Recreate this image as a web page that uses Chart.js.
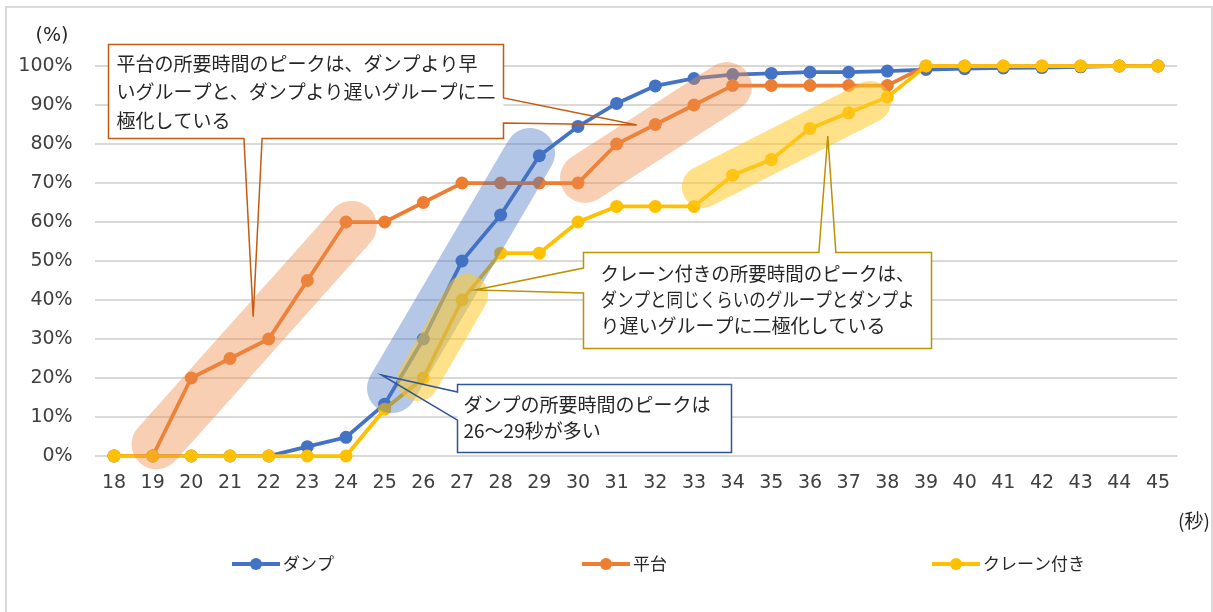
<!DOCTYPE html>
<html lang="ja">
<head>
<meta charset="utf-8">
<script src="https://cdn.jsdelivr.net/npm/chart.js@4.4.1/dist/chart.umd.min.js"></script>
<style>
  html, body { margin: 0; padding: 0; background: #fff; }
  #chart { display: block; }
</style>
</head>
<body>
<canvas id="chart" width="1213" height="612"></canvas>
<script>
// 所要時間(秒)ごとの累積割合(%)
const seconds = [18, 19, 20, 21, 22, 23, 24, 25, 26, 27, 28, 29, 30, 31, 32, 33, 34, 35, 36, 37, 38, 39, 40, 41, 42, 43, 44, 45];
const yTicks = [0, 10, 20, 30, 40, 50, 60, 70, 80, 90, 100];
const dump = [0, 0, 0, 0, 0, 2.4, 4.8, 13.3, 30, 50, 61.8, 77, 84.5, 90.4, 94.9, 96.8, 97.8, 98.1, 98.4, 98.4, 98.7, 99.1, 99.3, 99.5, 99.6, 99.8, 100, 100];
const flatbed = [0, 0, 20, 25, 30, 45, 60, 60, 65, 70, 70, 70, 70, 80, 85, 90, 95, 95, 95, 95, 95, 100, 100, 100, 100, 100, 100, 100];
const crane = [0, 0, 0, 0, 0, 0, 0, 12, 20, 40, 52, 52, 60, 64, 64, 64, 72, 76, 84, 88, 92, 100, 100, 100, 100, 100, 100, 100];
const seriesNames = ['ダンプ', '平台', 'クレーン付き'];
const seriesColors = ['#4472C4', '#ED7D31', '#FFC000'];

const JP_FONT = '"Noto Sans CJK JP", "Noto Sans", sans-serif';
const NUM_FONT = '"DejaVu Sans", sans-serif';
const TEXT_COLOR = '#262626';

// 強調の帯 (秒, %)
const bands = [
  { from: [19.1, 3], to: [24.15, 59], width: 50, color: 'rgba(239,140,75,0.42)' },
  { from: [30.18, 71.3], to: [33.85, 94.6], width: 50, color: 'rgba(239,140,75,0.42)' },
  { from: [33.23, 69.0], to: [37.55, 90.8], width: 42, color: 'rgba(255,200,40,0.55)' },
  { from: [25.19, 17.4], to: [28.76, 77.7], width: 50, color: 'rgba(68,114,196,0.4)' },
  { from: [25.86, 19.5], to: [27.13, 41.3], width: 42, color: 'rgba(255,200,40,0.55)' }
];

// 吹き出し  box: [左, 上, 右, 下] (秒, %)
const callouts = [
  {
    box: [17.85, 105.6, 28.06, 81.5], color: '#C55A11', font: 19, lineH: 28.5, pad: [8, 19],
    lines: ['平台の所要時間のピークは、ダンプより早', 'いグループと、ダンプより遅いグループに二', '極化している'],
    wedges: [
      { side: 'bottom', base: [21.36, 21.83], tip: [21.6, 35.7] },
      { side: 'right', base: [91.8, 85.4], tip: [31.52, 84.9] }
    ]
  },
  {
    box: [30.13, 52.3, 39.13, 27.7], color: '#BF9000', font: 19, lineH: 26, pad: [17, 21],
    lines: ['クレーン付きの所要時間のピークは、', 'ダンプと同じくらいのグループとダンプよ', 'り遅いグループに二極化している'],
    wedges: [
      { side: 'top', base: [36.23, 36.67], tip: [36.46, 82.05] },
      { side: 'left', base: [48.2, 41.8], tip: [27.34, 42.56] }
    ]
  },
  {
    box: [26.87, 18.46, 33.96, 1.03], color: '#2F5597', font: 19, lineH: 26, pad: [6, 20],
    lines: ['ダンプの所要時間のピークは', '26～29秒が多い'],
    wedges: [
      { side: 'left', base: [16.4, 9.2], tip: [24.92, 20.77] }
    ]
  }
];

const toPx = (chart, xv, yv) => {
  const x = chart.scales.x.getPixelForValue(xv - seconds[0]);
  const y = chart.scales.y.getPixelForValue(yv);
  return [x, y];
};

const framePlugin = {
  id: 'frame',
  beforeDraw: (chart) => {
    const ctx = chart.ctx;
    ctx.save();
    ctx.fillStyle = '#fff';
    ctx.fillRect(0, 0, chart.width, chart.height);
    ctx.strokeStyle = '#D9D9D9';
    ctx.lineWidth = 2;
    ctx.strokeRect(6, 7, chart.width - 7, chart.height + 10);
    ctx.restore();
  }
};

const bandPlugin = {
  id: 'bands',
  afterDatasetsDraw: (chart) => {
    const ctx = chart.ctx;
    ctx.save();
    ctx.lineCap = 'round';
    bands.forEach((b) => {
      const p0 = toPx(chart, b.from[0], b.from[1]);
      const p1 = toPx(chart, b.to[0], b.to[1]);
      ctx.strokeStyle = b.color;
      ctx.lineWidth = b.width;
      ctx.beginPath();
      ctx.moveTo(p0[0], p0[1]);
      ctx.lineTo(p1[0], p1[1]);
      ctx.stroke();
    });
    ctx.restore();
  }
};

const drawCallout = (chart, c) => {
  const ctx = chart.ctx;
  const tl = toPx(chart, c.box[0], c.box[1]);
  const br = toPx(chart, c.box[2], c.box[3]);
  const l = Math.round(tl[0]) + 0.5, t = Math.round(tl[1]) + 0.5;
  const r = Math.round(br[0]) + 0.5, b = Math.round(br[1]) + 0.5;

  // wedge base points in pixels
  const ws = c.wedges.map((w) => {
    const tip = toPx(chart, w.tip[0], w.tip[1]);
    let base;
    if (w.side === 'top' || w.side === 'bottom') {
      base = w.base.map((v) => chart.scales.x.getPixelForValue(v - seconds[0]));
    } else {
      base = w.base.map((v) => chart.scales.y.getPixelForValue(v));
    }
    base.sort((a, z) => a - z);
    return { side: w.side, base, tip };
  });
  const on = (side) => ws.filter((w) => w.side === side);

  ctx.save();
  ctx.fillStyle = '#fff';
  ctx.fillRect(l, t, r - l, b - t);

  ctx.beginPath();
  ctx.moveTo(l, t);
  on('top').forEach((w) => {
    ctx.lineTo(w.base[0], t); ctx.lineTo(w.tip[0], w.tip[1]); ctx.lineTo(w.base[1], t);
  });
  ctx.lineTo(r, t);
  on('right').forEach((w) => {
    ctx.lineTo(r, w.base[0]); ctx.lineTo(w.tip[0], w.tip[1]); ctx.lineTo(r, w.base[1]);
  });
  ctx.lineTo(r, b);
  on('bottom').forEach((w) => {
    ctx.lineTo(w.base[1], b); ctx.lineTo(w.tip[0], w.tip[1]); ctx.lineTo(w.base[0], b);
  });
  ctx.lineTo(l, b);
  on('left').forEach((w) => {
    ctx.lineTo(l, w.base[1]); ctx.lineTo(w.tip[0], w.tip[1]); ctx.lineTo(l, w.base[0]);
  });
  ctx.closePath();
  ctx.strokeStyle = c.color;
  ctx.lineWidth = 1.5;
  ctx.lineJoin = 'miter';
  ctx.stroke();

  // 枠からはみ出さないよう最大幅を指定
  const maxW = (r - l) - c.pad[0] * 2;
  ctx.fillStyle = TEXT_COLOR;
  ctx.font = c.font + 'px ' + JP_FONT;
  ctx.textAlign = 'left';
  ctx.textBaseline = 'middle';
  c.lines.forEach((line, i) => {
    ctx.fillText(line, l + c.pad[0], t + c.pad[1] + i * c.lineH, maxW);
  });
  ctx.restore();
};

const overlayPlugin = {
  id: 'overlay',
  afterDraw: (chart) => {
    const ctx = chart.ctx;
    callouts.forEach((c) => drawCallout(chart, c));

    ctx.save();
    // 単位
    ctx.fillStyle = TEXT_COLOR;
    ctx.textBaseline = 'middle';
    ctx.textAlign = 'center';
    ctx.font = '19px ' + NUM_FONT;
    ctx.fillText('(%)', 52, 36);
    ctx.font = '19px ' + JP_FONT;
    ctx.fillText('(秒)', 1194, 521);

    // 凡例
    seriesNames.forEach((name, i) => {
      const x0 = 232 + i * 350;
      const y = 564;
      ctx.strokeStyle = seriesColors[i];
      ctx.lineWidth = 4;
      ctx.beginPath();
      ctx.moveTo(x0, y);
      ctx.lineTo(x0 + 48, y);
      ctx.stroke();
      ctx.fillStyle = seriesColors[i];
      ctx.beginPath();
      ctx.arc(x0 + 24, y, 6, 0, Math.PI * 2);
      ctx.fill();
      ctx.fillStyle = TEXT_COLOR;
      ctx.textAlign = 'left';
      ctx.font = '17px ' + JP_FONT;
      ctx.fillText(name, x0 + 51, y);
    });
    ctx.restore();
  }
};

const seriesData = [dump, flatbed, crane];

new Chart(document.getElementById('chart'), {
  type: 'line',
  data: {
    labels: seconds,
    datasets: seriesNames.map((name, i) => ({
      label: name,
      data: seriesData[i],
      borderColor: seriesColors[i],
      backgroundColor: seriesColors[i],
      borderWidth: 3.75,
      pointRadius: 6.5,
      pointHoverRadius: 6.5,
      pointBorderWidth: 0,
      tension: 0,
      clip: false,
      // later series on top
      order: seriesNames.length - i
    }))
  },
  options: {
    responsive: false,
    animation: false,
    devicePixelRatio: 1,
    layout: { padding: { left: 0, right: 35.7, top: 66, bottom: 0 } },
    plugins: {
      legend: { display: false },
      tooltip: { enabled: false }
    },
    scales: {
      x: {
        type: 'category',
        offset: true,
        grid: { display: false, drawTicks: false },
        border: { display: false },
        ticks: {
          color: '#404040',
          font: { family: NUM_FONT, size: 19 },
          padding: 16,
          maxRotation: 0,
          autoSkip: false
        },
        afterFit: (scale) => { scale.height = 156; }
      },
      y: {
        min: 0,
        max: 100,
        afterBuildTicks: (scale) => { scale.ticks = yTicks.map((v) => ({ value: v })); },
        grid: { color: '#D9D9D9', lineWidth: 2, drawTicks: false },
        border: { display: false },
        ticks: {
          color: '#404040',
          font: { family: NUM_FONT, size: 19 },
          padding: 22,
          callback: (v) => v + '%'
        },
        afterFit: (scale) => { scale.width = 94.67; }
      }
    }
  },
  plugins: [framePlugin, bandPlugin, overlayPlugin]
});
</script>
</body>
</html>
